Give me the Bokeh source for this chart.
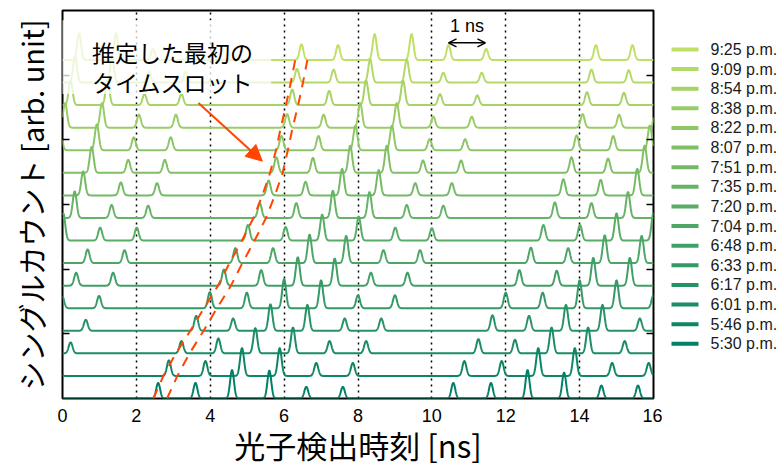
import numpy as np
from bokeh.plotting import figure
from bokeh.layouts import row
from bokeh.models import (Range1d, LinearAxis, FixedTicker, Label, Arrow, NormalHead, OpenHead,
                          BoxAnnotation, CustomJSTickFormatter, ColumnDataSource)
from bokeh.core.properties import value
from bokeh.embed import file_html
from bokeh.resources import INLINE

# ---------------- data ----------------
times = ["5:30 p.m.", "5:46 p.m.", "6:01 p.m.", "6:17 p.m.", "6:33 p.m.", "6:48 p.m.",
         "7:04 p.m.", "7:20 p.m.", "7:35 p.m.", "7:51 p.m.", "8:07 p.m.", "8:22 p.m.",
         "8:38 p.m.", "8:54 p.m.", "9:09 p.m.", "9:25 p.m."]

peak_pos = [
    [2.59, 3.60, 4.59, 5.60, 6.60, 7.59, 10.58, 11.60, 12.59, 13.58, 14.59, 15.58],
    [-0.12, 2.88, 3.87, 4.86, 5.88, 6.87, 7.86, 10.88, 11.89, 12.88, 13.87, 14.88, 15.87],
    [0.22, 3.22, 4.22, 5.22, 6.24, 7.23, 8.22, 11.26, 12.25, 13.24, 14.23, 15.22],
    [0.63, 3.62, 4.62, 5.63, 6.63, 7.64, 8.63, 11.64, 12.63, 13.63, 14.62, 15.63],
    [-0.01, 0.99, 3.99, 4.99, 6.00, 7.00, 8.00, 9.00, 12.00, 13.00, 14.00, 15.00, 16.00],
    [0.37, 1.37, 4.37, 5.38, 6.37, 7.37, 8.35, 9.34, 12.37, 13.38, 14.37, 15.36],
    [0.68, 1.68, 4.68, 5.70, 6.69, 7.68, 8.69, 9.68, 12.68, 13.69, 14.68, 15.68],
    [0.02, 1.02, 2.01, 5.02, 6.04, 7.03, 8.02, 9.01, 10.00, 13.02, 14.01, 15.00, 16.00],
    [0.33, 1.33, 2.32, 5.34, 6.33, 7.32, 8.31, 9.32, 10.31, 13.33, 14.32, 15.31],
    [0.56, 1.58, 2.56, 5.58, 6.58, 7.57, 8.56, 9.55, 10.54, 13.56, 14.57, 15.56],
    [0.79, 1.78, 2.77, 5.79, 6.78, 7.79, 8.78, 9.76, 10.79, 13.78, 14.77, 15.76],
    [-0.07, 0.93, 1.93, 2.93, 5.93, 6.93, 7.93, 8.92, 9.94, 10.90, 13.92, 14.91, 15.90],
    [0.07, 1.07, 2.07, 3.07, 6.08, 7.07, 8.06, 9.05, 10.04, 11.08, 14.08, 15.07, 16.07],
    [0.22, 1.22, 2.22, 3.22, 6.22, 7.22, 8.22, 9.22, 10.22, 11.23, 14.20, 15.20],
    [0.34, 1.34, 2.34, 3.34, 6.35, 7.34, 8.33, 9.32, 10.31, 11.35, 14.32, 15.33],
    [0.45, 1.45, 2.45, 3.45, 6.47, 7.46, 8.45, 9.45, 10.45, 11.47, 14.44, 15.43],
]
peak_height = [
    [0.24, 0.24, 0.44, 0.43, 0.18, 0.18, 0.24, 0.24, 0.44, 0.40, 0.20, 0.20],
    [0.19, 0.24, 0.23, 0.43, 0.43, 0.20, 0.20, 0.23, 0.23, 0.43, 0.43, 0.20, 0.20],
    [0.17, 0.19, 0.23, 0.39, 0.40, 0.19, 0.19, 0.22, 0.21, 0.40, 0.40, 0.19],
    [0.17, 0.23, 0.19, 0.41, 0.40, 0.19, 0.19, 0.24, 0.23, 0.40, 0.40, 0.19],
    [0.19, 0.19, 0.25, 0.24, 0.45, 0.43, 0.20, 0.20, 0.24, 0.24, 0.43, 0.43, 0.20],
    [0.20, 0.20, 0.25, 0.24, 0.44, 0.42, 0.20, 0.20, 0.24, 0.23, 0.43, 0.43],
    [0.21, 0.20, 0.23, 0.23, 0.44, 0.42, 0.20, 0.20, 0.24, 0.23, 0.43, 0.42],
    [0.42, 0.20, 0.20, 0.24, 0.21, 0.40, 0.37, 0.20, 0.19, 0.24, 0.24, 0.42, 0.43],
    [0.41, 0.20, 0.19, 0.23, 0.23, 0.42, 0.40, 0.20, 0.19, 0.24, 0.23, 0.40],
    [0.37, 0.20, 0.19, 0.23, 0.21, 0.41, 0.39, 0.19, 0.19, 0.25, 0.24, 0.41],
    [0.40, 0.20, 0.20, 0.24, 0.23, 0.42, 0.42, 0.19, 0.19, 0.24, 0.22, 0.42],
    [0.40, 0.40, 0.20, 0.20, 0.22, 0.22, 0.38, 0.38, 0.17, 0.17, 0.23, 0.22, 0.38],
    [0.38, 0.38, 0.20, 0.20, 0.21, 0.20, 0.38, 0.38, 0.17, 0.17, 0.21, 0.20, 0.38],
    [0.38, 0.38, 0.17, 0.17, 0.24, 0.22, 0.38, 0.38, 0.17, 0.15, 0.20, 0.19],
    [0.40, 0.38, 0.17, 0.17, 0.21, 0.20, 0.36, 0.36, 0.15, 0.15, 0.20, 0.19],
    [0.41, 0.41, 0.17, 0.17, 0.24, 0.23, 0.40, 0.40, 0.23, 0.17, 0.23, 0.23],
]
trace_offset = 0.349          # vertical offset between successive traces [arb. unit]
peak_sigma = 0.053            # ns

# estimated first time slot: left / right bounds per trace
slot_left = [2.46, 2.73, 3.07, 3.46, 3.83, 4.21, 4.52, 4.86, 5.17, 5.41, 5.62, 5.78, 5.91, 6.05, 6.18, 6.30]
slot_right = [2.83, 3.11, 3.44, 3.82, 4.18, 4.56, 4.87, 5.20, 5.51, 5.75, 5.96, 6.10, 6.23, 6.38, 6.51, 6.63]

x_ticks = [0, 2, 4, 6, 8, 10, 12, 14, 16]
y_ticks = [1, 2, 3, 4, 5]

# ---------------- main figure ----------------
p = figure(width=662, height=469, output_backend="svg", toolbar_location=None,
           x_range=Range1d(0, 16), y_range=Range1d(0, 6.0),
           min_border_left=62, min_border_right=9, min_border_top=10, min_border_bottom=65)
p.outline_line_color = "black"
p.outline_line_width = 2
p.background_fill_color = "white"
p.border_fill_color = "white"

jp = "Noto Sans CJK JP"

# x axis
p.xaxis.ticker = FixedTicker(ticks=x_ticks)
p.xaxis.major_tick_in = 0
p.xaxis.major_tick_out = 0
p.xaxis.minor_tick_line_color = None
p.xaxis.axis_line_color = None
p.xaxis.major_label_text_font = "Liberation Sans"
p.xaxis.major_label_text_font_size = "18px"
p.xaxis.major_label_text_color = "black"
p.xaxis.major_label_standoff = 10
p.xaxis.axis_label = "光子検出時刻 [ns]"
p.xaxis.axis_label_text_font = jp
p.xaxis.axis_label_text_font_size = "31px"
p.xaxis.axis_label_text_font_style = "normal"
p.xaxis.axis_label_text_color = "black"
p.xaxis.axis_label_standoff = -3

# y axis (no labels, inward ticks)
p.yaxis.ticker = FixedTicker(ticks=y_ticks)
p.yaxis.formatter = CustomJSTickFormatter(code="return ''")
p.yaxis.major_tick_in = 7
p.yaxis.major_tick_out = 0
p.yaxis.major_tick_line_width = 1.5
p.yaxis.minor_tick_line_color = None
p.yaxis.axis_line_color = None
p.yaxis.major_label_standoff = 0
p.yaxis.axis_label = "シングルカウント [arb. unit]"
p.yaxis.axis_label_text_font = jp
p.yaxis.axis_label_text_font_size = "29px"
p.yaxis.axis_label_text_font_style = "normal"
p.yaxis.axis_label_text_color = "black"
p.yaxis.axis_label_standoff = 11

ry = LinearAxis(ticker=FixedTicker(ticks=y_ticks), formatter=CustomJSTickFormatter(code="return ''"),
                major_tick_in=7, major_tick_out=0,
                major_tick_line_width=1.5, minor_tick_line_color=None, axis_line_color=None,
                major_label_standoff=0)
p.add_layout(ry, "right")

p.ygrid.grid_line_color = None
p.xgrid.ticker = FixedTicker(ticks=[2, 4, 6, 8, 10, 12, 14])
p.xgrid.grid_line_color = "black"
p.xgrid.grid_line_dash = "2 4"
p.xgrid.grid_line_width = 1.5


def summer(t):
    r, g, b = t, 0.5 + 0.5 * t, 0.4
    return "#%02x%02x%02x" % (int(round(r * 255)), int(round(g * 255)), int(round(b * 255)))


n = len(times)
colors = [summer(0.05 * i) for i in range(n)]

xs = np.linspace(0, 16, 3201)
for i in reversed(range(n)):
    base = i * trace_offset
    ys = np.full_like(xs, base)
    for c, h in zip(peak_pos[i], peak_height[i]):
        ys = ys + h * np.exp(-0.5 * ((xs - c) / peak_sigma) ** 2)
    p.line(xs, ys, line_color=colors[i], line_width=2)

# estimated first time slot (dashed orange)
bases = [i * trace_offset for i in range(n)]
p.line(slot_left, bases, line_color="#ff4500", line_width=2, line_dash="10 8")
p.line(slot_right, bases, line_color="#ff4500", line_width=2, line_dash="10 8")

# annotation box + text
box = BoxAnnotation(left=-0.5, right=5.65, bottom=4.71, top=5.85,
                    fill_color="white", fill_alpha=0.75, line_alpha=0)
p.add_layout(box)
p.add_layout(Label(x=2.98, y=5.36, text="推定した最初の", text_align="center", text_baseline="middle",
                   text_font=jp, text_font_size="23px", text_color="black"))
p.add_layout(Label(x=2.98, y=4.90, text="タイムスロット", text_align="center", text_baseline="middle",
                   text_font=jp, text_font_size="23px", text_color="black"))
p.add_layout(Arrow(end=NormalHead(size=16, fill_color="#ff4500", line_color="#ff4500"),
                   x_start=3.68, y_start=4.57, x_end=5.41, y_end=3.67,
                   line_color="#ff4500", line_width=2))

# 1 ns marker
p.add_layout(Arrow(start=OpenHead(size=8, line_width=1.5), end=OpenHead(size=8, line_width=1.5),
                   x_start=10.45, y_start=5.5, x_end=11.45, y_end=5.5,
                   line_color="black", line_width=1.5))
p.add_layout(Label(x=10.95, y=5.76, text="1 ns", text_align="center", text_baseline="middle",
                   text_font="Liberation Sans", text_font_size="18px", text_color="black"))

# ---------------- legend panel (pixel coordinates, y downward) ----------------
lg = figure(width=122, height=469, output_backend="svg", toolbar_location=None,
            x_range=Range1d(0, 122), y_range=Range1d(469, 0),
            min_border_left=0, min_border_right=0, min_border_top=0, min_border_bottom=0)
lg.axis.visible = False
lg.grid.visible = False
lg.outline_line_color = None
lg.background_fill_color = "white"
lg.border_fill_color = "white"

row_y = [47 + 23.73 * k for k in range(n)]
order = list(reversed(range(n)))          # 9:25 on top
src = ColumnDataSource(dict(
    x0=[9] * n, x1=[36] * n, y=row_y, tx=[48] * n,
    color=[colors[i] for i in order], label=[times[i] for i in order]))
lg.segment(x0="x0", y0="y", x1="x1", y1="y", line_color="color", line_width=4, source=src)
lg.text(x="tx", y="y", text="label", text_font=value("Liberation Sans"), text_font_size="16px",
        text_color="#1a1a1a", text_baseline="middle", text_align="left", source=src)

layout = row(p, lg, spacing=0)
open("out.html", "w").write(file_html(layout, INLINE))
